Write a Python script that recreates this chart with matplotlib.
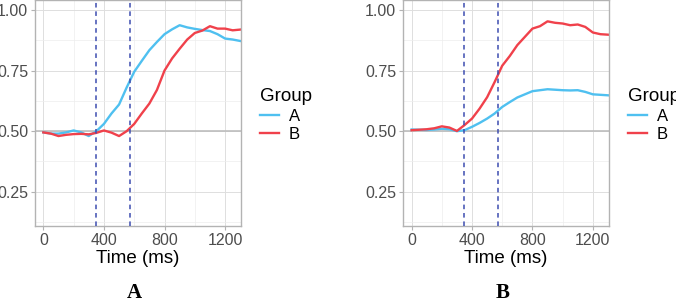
import matplotlib.pyplot as plt
from matplotlib.ticker import MultipleLocator

time_ms = [0, 50, 100, 150, 200, 250, 300, 350, 400, 450, 500, 550, 600, 650,
           700, 750, 800, 850, 900, 950, 1000, 1050, 1100, 1150, 1200, 1250, 1300]

# Panel A
a_group_a = [0.495, 0.49, 0.49, 0.495, 0.503, 0.495, 0.48, 0.50, 0.53, 0.573, 0.61,
             0.68, 0.745, 0.79, 0.834, 0.868, 0.90, 0.92, 0.937, 0.928, 0.922,
             0.917, 0.913, 0.90, 0.882, 0.878, 0.872]
a_group_b = [0.495, 0.49, 0.48, 0.485, 0.488, 0.489, 0.487, 0.493, 0.503, 0.494,
             0.48, 0.50, 0.53, 0.573, 0.614, 0.67, 0.75, 0.80, 0.84, 0.878, 0.905,
             0.915, 0.933, 0.923, 0.923, 0.916, 0.919]

# Panel B
b_group_a = [0.507, 0.506, 0.505, 0.507, 0.51, 0.508, 0.50, 0.504, 0.518, 0.534,
             0.552, 0.573, 0.60, 0.62, 0.639, 0.652, 0.665, 0.669, 0.673, 0.671,
             0.669, 0.668, 0.669, 0.662, 0.652, 0.65, 0.648]
b_group_b = [0.504, 0.506, 0.508, 0.512, 0.52, 0.515, 0.501, 0.525, 0.552, 0.593,
             0.64, 0.703, 0.77, 0.81, 0.855, 0.889, 0.923, 0.933, 0.953, 0.947,
             0.944, 0.937, 0.94, 0.93, 0.907, 0.90, 0.898]

panels = [("A", a_group_a, a_group_b), ("B", b_group_a, b_group_b)]
onsets = [350, 570]
groups = ["A", "B"]

COLOR_A = "#4FC0F0"
COLOR_B = "#F0414B"
COLOR_VLINE = "#3D4DB0"

plt.rcParams["font.family"] = ["Liberation Sans", "DejaVu Sans"]

fig = plt.figure(figsize=(6.76, 3.02), dpi=100)
W, H = 676, 302
boxes = [(35, 241), (403.3, 608.7)]
top, bottom = 0, 226

for (label, ya, yb), (x0, x1), lx in zip(panels, boxes, [260, 628]):
    ax = fig.add_axes([x0 / W, (H - bottom) / H, (x1 - x0) / W, (bottom - top) / H])
    ax.set_xlim(-55, 1305)
    ax.set_ylim(0.109, 1.041)
    ax.xaxis.set_major_locator(MultipleLocator(400))
    ax.xaxis.set_minor_locator(MultipleLocator(200))
    ax.yaxis.set_major_locator(MultipleLocator(0.25))
    ax.yaxis.set_minor_locator(MultipleLocator(0.125))
    ax.yaxis.set_major_formatter(plt.FuncFormatter(lambda v, p: f"{v:.2f}"))
    ax.grid(True, which="major", color="#DEDEDE", lw=0.7)
    ax.grid(True, which="minor", color="#EDEDED", lw=0.5)
    ax.set_axisbelow(True)
    for s in ax.spines.values():
        s.set_color("#B3B3B3")
        s.set_linewidth(1.0)
    ax.tick_params(which="major", colors="#B3B3B3", length=3, width=0.8,
                   labelcolor="#4D4D4D", labelsize=11.5, pad=2)
    ax.tick_params(which="minor", length=0)

    ax.axhline(0.5, color="#BDBDBD", lw=1.2, zorder=1)
    for t in onsets:
        ax.axvline(t, color=COLOR_VLINE, lw=1.1, ls=(0, (3, 2.5)), zorder=3)
    ax.plot(time_ms, ya, color=COLOR_A, lw=1.7, label=groups[0], zorder=2)
    ax.plot(time_ms, yb, color=COLOR_B, lw=1.7, label=groups[1], zorder=2)

    ax.set_xlabel("Time (ms)", fontsize=13.5, labelpad=1.5)

    leg = ax.legend(title="Group", loc="upper left",
                    bbox_to_anchor=((lx - 8) / W, 1 - 80 / H),
                    bbox_transform=fig.transFigure, frameon=False,
                    fontsize=12, title_fontsize=13.5, handlelength=1.1,
                    handletextpad=0.6, labelspacing=0.2, borderpad=0)
    leg._legend_box.align = "left"

    fig.text((x0 + x1) / 2 / W - 0.005, 1 - 293 / H, label, ha="center", va="center",
             fontsize=15, fontweight="bold", family=["Liberation Serif", "DejaVu Serif"])

fig.savefig("out.png", dpi=100, facecolor="white")
